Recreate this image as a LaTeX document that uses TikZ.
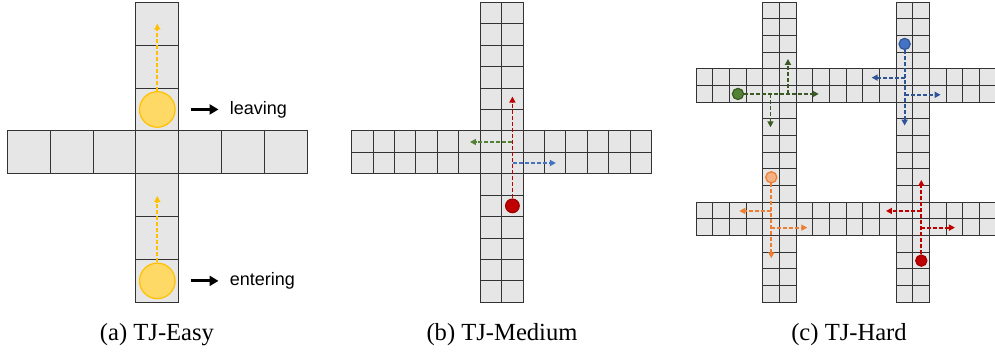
\documentclass[tikz,border=0pt]{standalone}
\usepackage{fontspec}
\setmainfont{Liberation Serif}
\setsansfont{Liberation Sans}
\usepackage{tikz}
\usetikzlibrary{arrows.meta,positioning}

\definecolor{cellgray}{HTML}{E6E6E6}
\definecolor{yellowfill}{HTML}{FFD966}
\definecolor{yellowline}{HTML}{FFC000}
\definecolor{redfill}{HTML}{C00000}
\definecolor{redline}{HTML}{A00000}
\definecolor{greenfill}{HTML}{548235}
\definecolor{greenline}{HTML}{3A5A24}
\definecolor{bluefill}{HTML}{4472C4}
\definecolor{blueline}{HTML}{2F5597}
\definecolor{orangefill}{HTML}{F4B183}
\definecolor{orangeline}{HTML}{ED7D31}

\begin{document}
\begin{tikzpicture}[
  x=0.5pt, y=-0.5pt,
  cell/.style={draw=black!80, fill=cellgray, line width=0.5pt},
  agent/.style={draw, circle, line width=0.6pt, inner sep=0pt},
  move/.style={dash pattern=on 2pt off 1pt, line width=0.9pt, -{Triangle[length=3pt,width=3pt]}},
  bigarr/.style={line width=1.5pt, -{Triangle[length=4.5pt,width=5pt]}},
  lbl/.style={font=\sffamily\fontsize{9}{10}\selectfont, inner sep=0pt},
  subcap/.style={font=\fontsize{12.3}{14}\selectfont, anchor=base}
]
\useasboundingbox (0,0) rectangle (995,356);

% (a) easy
\begin{scope}[shift={(7.3,2.3)}, x=21.43pt, y=-21.43pt]
  \foreach \r in {0,...,6} \draw[cell] (3,\r) rectangle ++(1,1);
  \foreach \c in {0,1,2,4,5,6} \draw[cell] (\c,3) rectangle ++(1,1);

  \node[agent, fill=yellowfill, draw=yellowline, minimum size=17.8pt] (ea) at (3.5,2.5) {};
  \node[agent, fill=yellowfill, draw=yellowline, minimum size=17.8pt] (eb) at (3.5,6.5) {};
  \coordinate (eatop) at (3.5,0.5);
  \coordinate (ebtop) at (3.5,4.52);
  \draw[move, yellowline] (ea) -- (eatop);
  \draw[move, yellowline] (eb) -- (ebtop);

  \node[lbl, right=26.9pt of ea] (lv) {leaving};
  \node[lbl, right=26.9pt of eb] (en) {entering};
  \draw[bigarr] ([xshift=-19.5pt]lv.west) -- ([xshift=-5.5pt]lv.west);
  \draw[bigarr] ([xshift=-19.5pt]en.west) -- ([xshift=-5.5pt]en.west);
\end{scope}

% (b) medium
\begin{scope}[shift={(351.7,2.3)}, x=10.714pt, y=-10.714pt]
  \foreach \r in {0,...,13} \foreach \c in {6,7} \draw[cell] (\c,\r) rectangle ++(1,1);
  \foreach \c in {0,...,5,8,9,...,13} \foreach \r in {6,7} \draw[cell] (\c,\r) rectangle ++(1,1);

  \node[agent, fill=redfill, draw=redline, minimum size=6.8pt] (rm) at (7.5,9.5) {};
  \coordinate (rmup) at (7.5,4.4);
  \coordinate (rmg) at (7.5,6.52);
  \coordinate (rmgl) at (5.52,6.52);
  \coordinate (rmb) at (7.55,7.5);
  \coordinate (rmbr) at (9.53,7.5);
  \draw[move, greenfill] (rmg) -- (rmgl);
  \draw[move, bluefill] (rmb) -- (rmbr);
  \draw[move, redfill] (rm) -- (rmup);
\end{scope}

% (c) hard
\begin{scope}[shift={(696.3,2.3)}, x=8.333pt, y=-8.333pt]
  \foreach \s in {4,12} \foreach \c in {0,1} \foreach \r in {0,...,17}
    \draw[cell] (\s+\c,\r) rectangle ++(1,1);
  \foreach \s in {4,12} \foreach \r in {0,1} \foreach \c in {0,...,17}
    \draw[cell] (\c,\s+\r) rectangle ++(1,1);

  \node[agent, fill=greenfill, draw=greenline, minimum size=5.6pt] (gc) at (2.5,5.5) {};
  \coordinate (gcr) at (7.35,5.5);
  \coordinate (gcd0) at (4.45,5.5);
  \coordinate (gcd) at (4.45,7.5);
  \coordinate (gcu0) at (5.5,5.5);
  \coordinate (gcu) at (5.5,3.4);
  \draw[move, greenline] (gc) -- (gcr);
  \draw[move, greenline] (gcd0) -- (gcd);
  \draw[move, greenline] (gcu0) -- (gcu);

  \node[agent, fill=bluefill, draw=blueline, minimum size=5.6pt] (bc) at (12.5,2.5) {};
  \coordinate (bcd) at (12.5,7.4);
  \coordinate (bcl0) at (12.5,4.52);
  \coordinate (bcl) at (10.52,4.52);
  \coordinate (bcr0) at (12.55,5.55);
  \coordinate (bcr) at (14.66,5.55);
  \draw[move, blueline] (bc) -- (bcd);
  \draw[move, blueline] (bcl0) -- (bcl);
  \draw[move, blueline] (bcr0) -- (bcr);

  \node[agent, fill=orangefill, draw=orangeline, minimum size=5.6pt] (oc) at (4.5,10.5) {};
  \coordinate (ocd) at (4.5,15.36);
  \coordinate (ocl0) at (4.5,12.52);
  \coordinate (ocl) at (2.58,12.52);
  \coordinate (ocr0) at (4.5,13.52);
  \coordinate (ocr) at (6.66,13.52);
  \draw[move, orangeline] (oc) -- (ocd);
  \draw[move, orangeline] (ocl0) -- (ocl);
  \draw[move, orangeline] (ocr0) -- (ocr);

  \node[agent, fill=redfill, draw=redline, minimum size=5.6pt] (rc) at (13.5,15.5) {};
  \coordinate (rcu) at (13.5,10.66);
  \coordinate (rcl0) at (13.5,12.52);
  \coordinate (rcl) at (11.38,12.52);
  \coordinate (rcr0) at (13.5,13.52);
  \coordinate (rcr) at (15.52,13.52);
  \draw[move, redfill] (rc) -- (rcu);
  \draw[move, redfill] (rcl0) -- (rcl);
  \draw[move, redfill] (rcr0) -- (rcr);
\end{scope}

\node[subcap] (capa) at (157,340.6) {(a) TJ-Easy};
\node[subcap] (capb) at (502,340.6) {(b) TJ-Medium};
\node[subcap] (capc) at (849,340.6) {(c) TJ-Hard};

\end{tikzpicture}
\end{document}
